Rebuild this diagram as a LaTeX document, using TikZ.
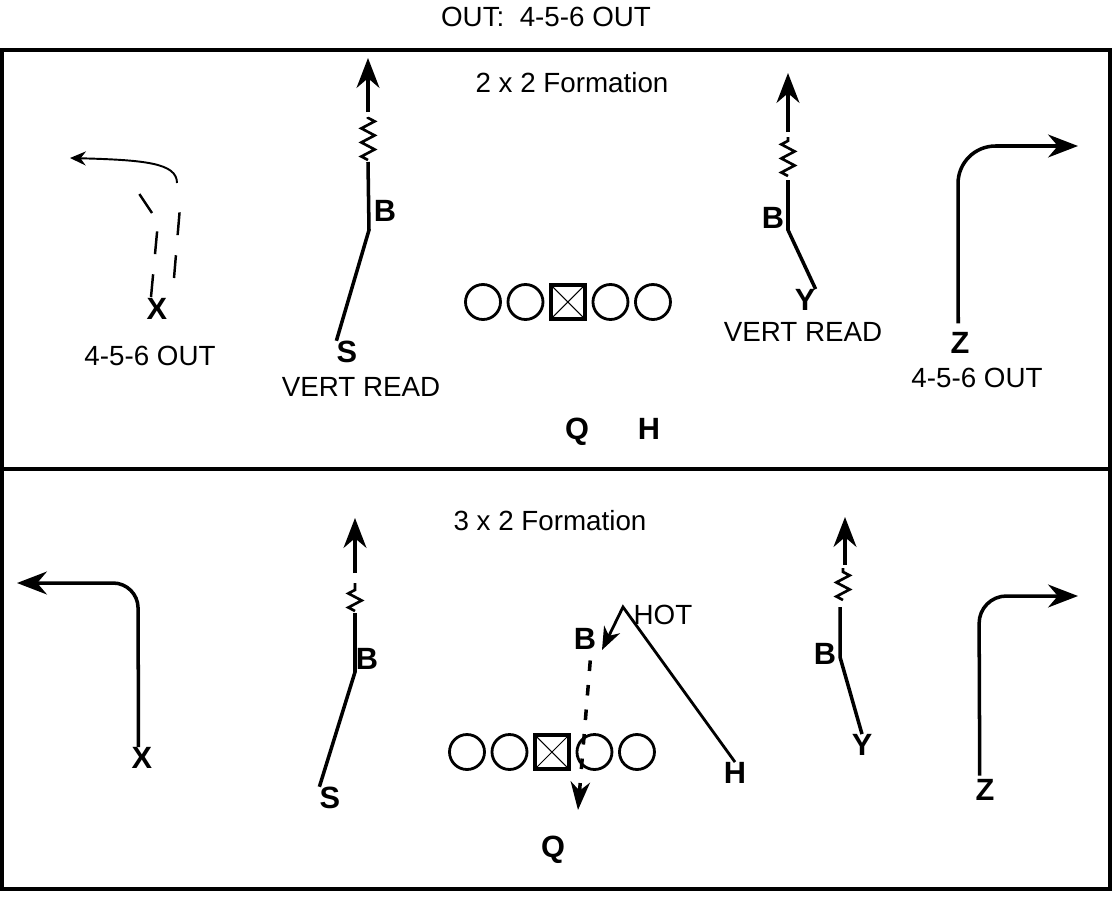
\documentclass[tikz,border=0pt]{standalone}
\usepackage{fontspec}
\setmainfont{Liberation Sans}
\usetikzlibrary{arrows.meta,decorations.pathmorphing}

\begin{document}
\begin{tikzpicture}[x=0.02cm, y=-0.02cm, node distance=0.85cm]

  % Definitions
  \tikzstyle{txt} = [inner sep=0pt, font=\fontsize{15.8}{19}\selectfont]
  \tikzstyle{player} = [inner sep=0pt, font=\fontsize{17.5}{20}\selectfont\bfseries]
  \tikzstyle{lineman} = [circle, draw, line width=1.6pt, minimum size=0.7cm]
  \tikzstyle{snapper} = [rectangle, draw, line width=2.1pt, minimum size=0.68cm,
    path picture={\draw[line width=0.6pt] (path picture bounding box.north west) -- (path picture bounding box.south east)
      (path picture bounding box.north east) -- (path picture bounding box.south west);}]
  \tikzstyle{route} = [line width=2pt]
  \tikzstyle{wiggle} = [line width=1.5pt, decorate, decoration={zigzag, segment length=8pt, amplitude=3.8pt}]
  \tikzstyle{arrow} = [route, -{Stealth[length=17pt, width=13pt, inset=5.5pt]}]
  \tikzstyle{thinarrow} = [line width=1.1pt, -{Stealth[length=9pt, width=8pt, inset=3pt]}]
  \tikzstyle{hotarrow} = [line width=1.6pt, -{Stealth[length=13pt, width=10pt, inset=4pt]}]
  \tikzstyle{sketch} = [line width=1.4pt, dash pattern=on 13pt off 11.5pt]
  \tikzstyle{dashroute} = [route, dash pattern=on 6pt off 8pt]

  \useasboundingbox (0,0) rectangle (1113,900);
  \draw [line width=2pt] (2,50) rectangle (1110,889);
  \draw [line width=2pt] (2,469) -- (1110,469);

  \node (title) [txt] at (546,17) {OUT:~~4-5-6 OUT};

  % 2 x 2
  \node (form1) [txt] at (572,83) {2 x 2 Formation};

  \node (T1) [lineman] at (483,302) {};
  \node (T2) [lineman, right of=T1] {};
  \node (T3) [snapper, right of=T2] {};
  \node (T4) [lineman, right of=T3] {};
  \node (T5) [lineman, right of=T4] {};
  \node (Q1) [player] at (577,432) {Q};
  \node (H1) [player] at (649,429) {H};

  \node (X1) [player] at (157,309) {X};
  \node (X1txt) [txt] at (150,356) {4-5-6 OUT};
  \coordinate (x1a) at (151,297);
  \coordinate (x1b) at (158,222);
  \coordinate (x1c) at (136,189);
  \coordinate (x1d) at (174,278);
  \coordinate (x1e) at (180,207);
  \coordinate (x1f) at (177,183);
  \coordinate (x1g) at (70,158);
  \draw [sketch] (x1a) -- (x1b) -- (x1c);
  \draw [sketch] (x1d) -- (x1e);
  \draw [thinarrow] (x1f) .. controls (177,163) and (145,160) .. (x1g);

  \node (S1) [player] at (347,352) {S};
  \node (S1txt) [txt] at (361,387) {VERT READ};
  \node (B1) [player] at (385,211) {B};
  \coordinate (s1a) at (369,230);
  \coordinate (s1b) at (368,162);
  \draw [route] (S1.north west) -- (s1a) -- (s1b);
  \draw [wiggle] (368,160) -- (368,117);
  \draw [arrow] (368,112) -- (368,58);

  \node (Y1) [player] at (805,300) {Y};
  \node (Y1txt) [txt] at (803,332) {VERT READ};
  \node (B2) [player] at (773,218) {B};
  \coordinate (y1a) at (788,230);
  \coordinate (y1b) at (788,180);
  \draw [route] (Y1.north east) -- (y1a) -- (y1b);
  \draw [wiggle] (788,176) -- (788,137);
  \draw [arrow] (788,132) -- (788,73);

  \node (Z1) [player] at (960,343) {Z};
  \node (Z1txt) [txt] at (977,378) {4-5-6 OUT};
  \coordinate (z1a) at (958,146);
  \coordinate (z1b) at (1078,146);
  \draw [arrow, rounded corners=0.75cm] ([xshift=-1pt, yshift=5pt]Z1.north) -- (z1a) -- (z1b);

  % 3 x 2
  \node (form2) [txt] at (550,521) {3 x 2 Formation};

  \node (L1) [lineman] at (467,752) {};
  \node (L2) [lineman, right of=L1] {};
  \node (L3) [snapper, right of=L2] {};
  \node (L4) [lineman, right of=L3] {};
  \node (L5) [lineman, right of=L4] {};

  \node (X2) [player] at (142,758) {X};
  \coordinate (x2a) at (138,583);
  \coordinate (x2b) at (17,583);
  \draw [arrow, rounded corners=0.5cm] ([xshift=-2pt]X2.north) -- (x2a) -- (x2b);

  \node (S2) [player] at (330,798) {S};
  \node (B3) [player] at (367,659) {B};
  \coordinate (s2a) at (355,672);
  \coordinate (s2b) at (355,613);
  \draw [route] (S2.north west) -- (s2a) -- (s2b);
  \draw [wiggle] (355,611) -- (355,583);
  \draw [arrow] (355,573) -- (355,518);

  \node (B4) [player] at (585,639) {B};
  \node (hot) [txt] at (663,615) {HOT};
  \node (H2) [player] at (735,773) {H};
  \node (Q2) [player] at (553,850) {Q};
  \coordinate (h2a) at (623,607);
  \coordinate (h2b) at (602,650);
  \coordinate (q2a) at (578,810);
  \draw [hotarrow] (H2.north) -- (h2a) -- (h2b);
  \draw [dashroute, -{Stealth[length=16pt, width=11pt, inset=5pt]}] ([xshift=3pt, yshift=-6pt]B4.south) -- (q2a);

  \node (Y2) [player] at (862,745) {Y};
  \node (B5) [player] at (825,654) {B};
  \coordinate (y2a) at (840,657);
  \coordinate (y2b) at (840,607);
  \draw [route] (Y2.north) -- (y2a) -- (y2b);
  \draw [wiggle] (843,600) -- (843,568);
  \draw [arrow] (845,565) -- (845,517);

  \node (Z2) [player] at (985,790) {Z};
  \coordinate (z2a) at (979,596);
  \coordinate (z2b) at (1078,596);
  \draw [arrow, rounded corners=0.55cm] ([xshift=-3pt, yshift=2pt]Z2.north) -- (z2a) -- (z2b);

\end{tikzpicture}
\end{document}
